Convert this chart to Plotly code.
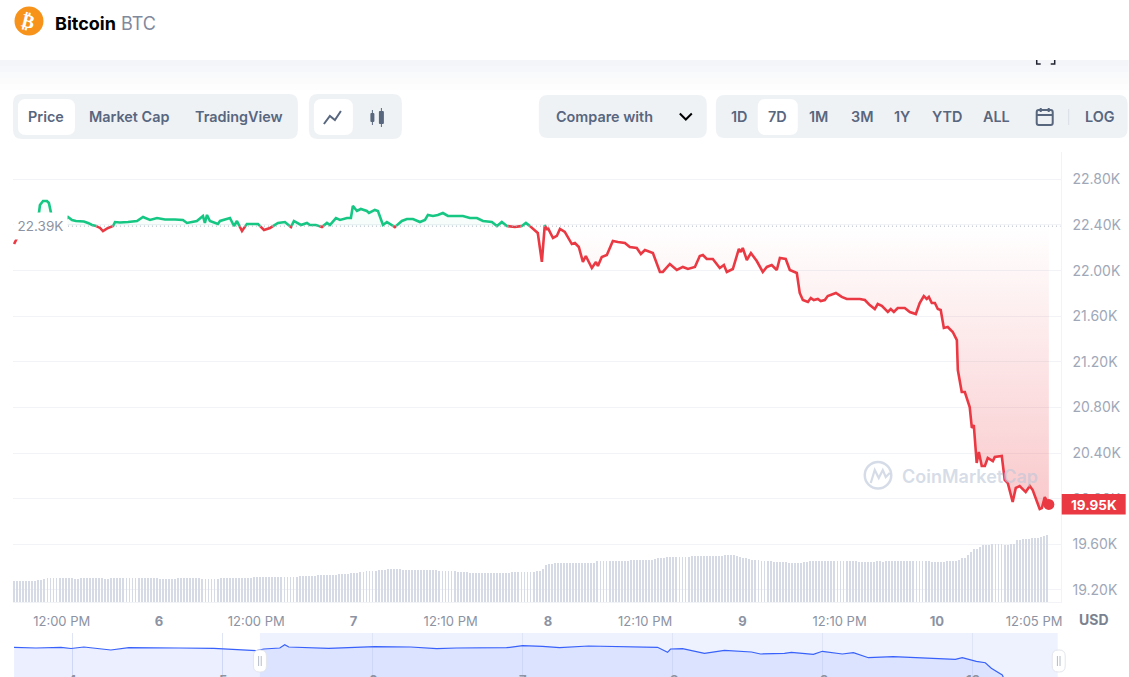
import plotly.graph_objects as go

W, H = 1129, 677

# ---------- data ----------
price_days = [5.255,5.275,5.296,5.316,5.337,5.357,5.383,5.388,5.404,5.424,5.434,5.445,5.465,5.486,5.506,5.532,5.553,5.573,5.594,5.614,5.635,5.656,5.676,5.697,5.712,5.738,5.764,5.774,5.799,5.841,5.887,5.918,5.954,5.990,6.031,6.082,6.123,6.144,6.195,6.226,6.236,6.247,6.262,6.303,6.314,6.365,6.386,6.401,6.427,6.452,6.509,6.540,6.571,6.596,6.612,6.648,6.679,6.694,6.730,6.761,6.776,6.807,6.838,6.864,6.879,6.910,6.931,6.967,6.987,6.997,7.018,7.038,7.069,7.080,7.110,7.126,7.152,7.172,7.213,7.249,7.275,7.306,7.342,7.368,7.383,7.409,7.434,7.460,7.486,7.563,7.599,7.635,7.666,7.712,7.738,7.763,7.789,7.830,7.866,7.887,7.907,7.948,7.969,7.984,7.995,8.000,8.026,8.046,8.062,8.087,8.123,8.139,8.159,8.180,8.195,8.226,8.247,8.257,8.277,8.303,8.334,8.360,8.396,8.421,8.457,8.478,8.499,8.540,8.576,8.591,8.612,8.627,8.663,8.694,8.720,8.756,8.781,8.797,8.817,8.848,8.884,8.905,8.920,8.951,8.982,8.992,9.002,9.023,9.044,9.074,9.105,9.126,9.151,9.177,9.193,9.223,9.244,9.280,9.295,9.311,9.337,9.352,9.367,9.388,9.403,9.424,9.439,9.465,9.481,9.511,9.537,9.604,9.630,9.655,9.681,9.696,9.717,9.748,9.763,9.779,9.799,9.835,9.861,9.892,9.912,9.933,9.948,9.959,9.974,9.990,10.005,10.020,10.036,10.056,10.082,10.103,10.108,10.128,10.144,10.169,10.180,10.190,10.205,10.216,10.231,10.247,10.262,10.288,10.298,10.334,10.349,10.365,10.390,10.406,10.426,10.457,10.478,10.493,10.529,10.540,10.555,10.576]
prices = [22233,22304,22374,22391,22426,22461,22505,22575,22610,22610,22593,22505,22426,22409,22426,22470,22444,22435,22435,22431,22418,22400,22391,22374,22347,22374,22391,22426,22422,22426,22435,22470,22444,22461,22448,22448,22444,22418,22435,22479,22418,22488,22435,22409,22435,22461,22391,22435,22347,22409,22409,22356,22374,22400,22418,22426,22382,22435,22400,22418,22400,22400,22382,22418,22400,22461,22444,22461,22461,22567,22523,22540,22523,22505,22532,22523,22400,22426,22382,22435,22453,22453,22426,22444,22488,22479,22488,22505,22479,22479,22461,22461,22435,22426,22391,22426,22391,22382,22391,22418,22391,22330,22076,22400,22356,22374,22286,22304,22365,22339,22233,22242,22207,22076,22128,22023,22076,22040,22119,22137,22260,22251,22242,22207,22198,22146,22181,22154,21988,21988,22032,22058,22005,22032,22014,22032,22128,22137,22102,22102,22023,22049,21988,22014,22190,22163,22198,22093,22154,22084,21988,22032,22049,22005,22111,22102,22005,21979,21804,21742,21725,21760,21742,21751,21733,21742,21777,21795,21804,21769,21751,21751,21742,21698,21663,21707,21690,21637,21663,21637,21672,21672,21637,21619,21716,21777,21751,21769,21716,21716,21663,21655,21497,21505,21462,21391,21128,20935,20935,20804,20620,20646,20313,20409,20286,20286,20357,20330,20365,20374,20164,20137,19971,20094,20111,20058,20111,20076,19909,19918,20014,19950]
base_price = 22390

volume = [21,21,21,21,21,21,22,
 23,24,24,24,24,24,24,24,23,24,24,24,24,24,24,23,23,24,24,24,24,24,24,24,24,24,24,24,24,23,23,23,23,24,24,24,24,24,24,23,23,23,23,23,24,24,24,24,24,24,24,24,
 25,25,25,25,25,25,25,25,25,25,25,26,26,26,26,26,27,27,
 27,27,27,28,28,28,29,29,30,30,
 31,31,31,32,32,33,33,33,33,
 32,32,32,32,32,32,32,32,32,
 31,31,31,31,30,30,30,29,29,29,29,29,29,29,29,29,29,
 29,30,30,30,30,30,30,31,33,
 37,38,39,39,39,39,39,39,39,39,39,39,39,
 41,41,41,41,41,41,41,41,42,42,42,42,42,
 42,43,44,44,45,45,
 45,45,45,45,46,46,46,46,46,
 46,46,46,47,47,47,
 46,45,44,43,
 42,42,41,41,41,40,40,40,40,
 39,39,39,39,40,41,
 41,41,41,41,41,41,41,41,41,41,
 41,40,40,40,
 40,40,41,40,41,41,41,41,41,41,41,41,41,41,
 41,40,40,40,
 40,41,41,41,42,
 44,47,50,53,55,57,57,
 58,58,58,57,57,58,62,
 62,63,63,64,64,65,66,67]
volume_start_day = 5.2546
volume_step_days = 0.5 / 24

nav_days = [3.607,3.753,3.920,3.987,4.073,4.253,4.373,4.587,4.707,4.940,5.227,5.273,5.380,5.413,5.440,5.707,6.013,6.253,6.427,6.560,6.893,7.000,7.133,7.247,7.440,7.900,7.967,7.987,8.067,8.213,8.347,8.527,8.587,8.747,8.793,8.940,9.000,9.133,9.207,9.307,9.473,9.887,9.933,10.027,10.087,10.127,10.200,10.247,10.570]
nav_prices = [22480,22433,22480,22400,22500,22300,22453,22413,22433,22413,22253,22367,22433,22653,22500,22413,22520,22500,22387,22433,22453,22587,22547,22453,22567,22480,22147,22367,22387,22080,22280,22167,22033,22080,22147,22013,22213,22033,22120,21786,21853,21680,21786,21546,21453,21080,20633,19632,19500]

y_ticks = [22800,22400,22000,21600,21200,20800,20400,20000,19600,19200]
y_labels = ["22.80K","22.40K","22.00K","21.60K","21.20K","20.80K","20.40K","20.00K","19.60K","19.20K"]
x_ticks = [5.5,6,6.5,7,7.5,8,8.5,9,9.5,10,10.5]
x_labels = ["12:00 PM","<b>6</b>","12:00 PM","<b>7</b>","12:10 PM","<b>8</b>","12:10 PM","<b>9</b>","12:10 PM","<b>10</b>","12:05 PM"]
nav_ticks = [4,5,6,7,8,9,10]

# ---------- helpers ----------
FONT = "Inter"
RED, GREEN = "#ea3943", "#16c784"
SLATE = "#58667e"
fx = lambda x: x / W * 1.0015
fy = lambda y: 1 - y / H
shapes, annos = [], []

def rect(x0, y0, x1, y1, color, layer="above"):
    shapes.append(dict(type="rect", xref="paper", yref="paper", x0=fx(x0), x1=fx(x1),
                       y0=fy(y1), y1=fy(y0), fillcolor=color, line_width=0, layer=layer))

def rrect(x0, y0, x1, y1, r, color, border=None):
    a, b, c, d = fx(x0), fx(x1), fy(y0), fy(y1)
    rx, ry = r / W, r / H
    p = (f"M{a+rx},{c} L{b-rx},{c} Q{b},{c} {b},{c-ry} L{b},{d+ry} Q{b},{d} {b-rx},{d} "
         f"L{a+rx},{d} Q{a},{d} {a},{d+ry} L{a},{c-ry} Q{a},{c} {a+rx},{c} Z")
    shapes.append(dict(type="path", xref="paper", yref="paper", path=p, fillcolor=color,
                       line=dict(color=border or color, width=1 if border else 0)))

def poly(points, color, width=2):
    p = "M" + " L".join(f"{fx(x)},{fy(y)}" for x, y in points)
    shapes.append(dict(type="path", xref="paper", yref="paper", path=p,
                       line=dict(color=color, width=width)))

def text(x, y, s, size=14, color=SLATE, weight=600, anchor="center", family=FONT, **kw):
    annos.append(dict(xref="paper", yref="paper", x=fx(x), y=fy(y), text=s, showarrow=False,
                      xanchor=anchor, yanchor="middle", borderpad=0,
                      font=dict(family=family, size=size, color=color, weight=weight), **kw))

# ---------- price series split at the open price ----------
xs, ys = [], []
for i, (d, v) in enumerate(zip(price_days, prices)):
    if i:
        d0, v0 = price_days[i - 1], prices[i - 1]
        if (v0 - base_price) * (v - base_price) < 0:
            xs.append(d0 + (d - d0) * (base_price - v0) / (v - v0))
            ys.append(base_price)
    xs.append(d)
    ys.append(v)
red_line = [v if v <= base_price else None for v in ys]
green_line = [v if v >= base_price else None for v in ys]
red_fill = [min(v, base_price) for v in ys]
green_fill = [max(v, base_price) for v in ys]
base_line = [base_price] * len(xs)

fig = go.Figure()
no_line = dict(width=0)
fig.add_trace(go.Scatter(x=xs, y=base_line, mode="lines", line=no_line, hoverinfo="skip"))
fig.add_trace(go.Scatter(x=xs, y=red_fill, mode="lines", line=no_line, fill="tonexty", hoverinfo="skip",
    fillgradient=dict(type="vertical", start=base_price, stop=19950,
                      colorscale=[[0, "rgba(234,57,67,0)"], [1, "rgba(234,57,67,0.27)"]])))
fig.add_trace(go.Scatter(x=xs, y=base_line, mode="lines", line=no_line, hoverinfo="skip"))
fig.add_trace(go.Scatter(x=xs, y=green_fill, mode="lines", line=no_line, fill="tonexty", hoverinfo="skip",
    fillcolor="rgba(22,199,132,0.04)"))
fig.add_trace(go.Scatter(x=xs, y=green_line, mode="lines", line=dict(color=GREEN, width=2.6), connectgaps=False))
fig.add_trace(go.Scatter(x=xs, y=red_line, mode="lines", line=dict(color=RED, width=2.6), connectgaps=False))
fig.add_trace(go.Scatter(x=[price_days[-1]], y=[prices[-1]], mode="markers",
                         marker=dict(color=RED, size=11)))
# one bar per volume sample, drawn thin so the column reads as a fine hatch
n_bars = int(len(volume) * 4 / 3)
vol_x = [volume_start_day + i * 0.75 * volume_step_days for i in range(n_bars)]
vol_y = [volume[int(i * 0.75)] for i in range(n_bars)]
fig.add_trace(go.Bar(x=vol_x, y=vol_y, width=0.0045, marker=dict(color="#d5dae5", line_width=0), yaxis="y2"))
fig.add_trace(go.Scatter(x=nav_days, y=nav_prices, mode="lines", xaxis="x3", yaxis="y3",
                         line=dict(color="#3861fb", width=1.2), fill="tozeroy",
                         fillcolor="rgba(56,97,251,0.10)"))

# ---------- page furniture ----------
for k, c in enumerate(["#f4f5f8", "#f6f7fa", "#f9fafb", "#fbfbfc", "#fdfdfe"]):
    rect(0, 60 + k * 6, W, 66 + k * 6, c, layer="below")

shapes.append(dict(type="circle", xref="paper", yref="paper", x0=fx(14.5), x1=fx(43.5),
                   y0=fy(35.5), y1=fy(6.5), fillcolor="#f7931a", line_width=0))
text(29, 21, "₿", size=19, color="#ffffff", weight=700, family="DejaVu Sans", textangle=14)
text(54, 23, "Bitcoin", size=18, color="#000000", weight=700, anchor="left")
text(120, 23, "BTC", size=18, color="#808a9d", weight=400, anchor="left")

poly([(1037, 60), (1037, 64), (1041, 64)], "#222531", 1.5)
poly([(1055, 60), (1055, 64), (1051, 64)], "#222531", 1.5)

GROUP = "#eff2f5"
BTN = 14.4
rrect(13, 94, 298, 139, 9, GROUP)
rrect(18, 99, 75, 135, 8, "#ffffff")
text(46, 116, "Price", size=BTN)
text(129, 116, "Market Cap", size=BTN)
text(239, 116, "TradingView", size=BTN)

rrect(309, 94, 402, 139, 9, GROUP)
rrect(314, 99, 353, 135, 8, "#ffffff")
poly([(324, 124), (330, 116), (335, 120), (341, 111)], SLATE, 2)
poly([(372.5, 110), (372.5, 125)], SLATE, 1)
poly([(381.5, 108), (381.5, 127)], SLATE, 1)
rrect(370.5, 113, 374.5, 122, 1, SLATE)
rrect(379, 111, 384, 124, 1, SLATE)

rrect(539, 95, 707, 138, 9, GROUP)
text(605, 117, "Compare with", size=BTN)
poly([(680, 113.5), (686, 119.5), (692, 113.5)], "#000000", 2)

rrect(716, 95, 1128, 138, 9, GROUP)
rrect(758, 99, 798, 135, 8, "#ffffff")
for x, s in [(739, "1D"), (778, "7D"), (819, "1M"), (862, "3M"), (902, "1Y"), (947, "YTD"), (997, "ALL"), (1100, "LOG")]:
    text(x, 117, s, size=BTN)
rrect(1037, 110, 1053, 125, 2, "rgba(0,0,0,0)", border=SLATE)
shapes[-1]["line"]["width"] = 2
poly([(1037, 115), (1053, 115)], SLATE, 2)
poly([(1041, 108), (1041, 112)], SLATE, 2)
poly([(1049, 108), (1049, 112)], SLATE, 2)
poly([(1069, 109), (1069, 125)], "#d8dde6", 1)

# ---------- chart overlays ----------
shapes.append(dict(type="line", xref="x", yref="y", x0=5.532, x1=10.637, y0=base_price, y1=base_price,
                   line=dict(color="#aab2c0", width=1, dash="1px,3px")))
annos.append(dict(xref="paper", yref="paper", x=fx(13), y=fy(226), text="22.39K", showarrow=False,
                  xanchor="left", yanchor="middle", width=51, height=24, align="center", bgcolor="#ffffff",
                  font=dict(family=FONT, size=13.5, color="#8c93a3")))

rect(1062, 494, 1126, 514.5, RED)
text(1094, 504.5, "19.95K", size=13.5, color="#ffffff", weight=700)
text(1094, 619, "USD", size=14, color="#7a8291", weight=700)

# watermark
WM = "rgba(188,198,216,0.62)"
shapes.append(dict(type="circle", xref="paper", yref="paper", x0=fx(865), x1=fx(891.5),
                   y0=fy(488.5), y1=fy(462), fillcolor="rgba(0,0,0,0)", line=dict(color=WM, width=2.5)))
poly([(871, 483), (875, 470), (879, 478), (883, 470), (886, 477), (890, 473)], WM, 2.2)
text(901, 476, "CoinMarketCap", size=18, color=WM, weight=600, anchor="left")

# navigator
rect(260, 633, 1058, 677, "#eef2fe", layer="below")
for x in (260, 1059):
    rrect(x - 6.5, 650, x + 6.5, 672, 6, "#ffffff", border="#e3e6ec")
    poly([(x - 1.3, 656), (x - 1.3, 666)], "#b4bcca", 1)
    poly([(x + 1.3, 656), (x + 1.3, 666)], "#b4bcca", 1)
for d in nav_ticks:
    text(73 + (d - 4) * 150.2, 680, str(d), size=13, color="#8c93a3", weight=700)

grid = "#f1f3f6"
tick_hide = "rgba(0,0,0,0)"
fig.update_layout(
    width=W, height=H, autosize=False, showlegend=False, margin=dict(l=0, r=0, t=0, b=0),
    paper_bgcolor="#ffffff", plot_bgcolor="rgba(0,0,0,0)", bargap=0, hovermode=False,
    font=dict(family=FONT), shapes=shapes, annotations=annos,
    xaxis=dict(domain=[fx(13), fx(1061)], range=[5.2494, 10.637], anchor="y", showgrid=False, zeroline=False,
               showline=True, linecolor=grid, linewidth=1, tickmode="array", tickvals=x_ticks, ticktext=x_labels,
               ticks="outside", ticklen=7, tickcolor=tick_hide, tickfont=dict(family=FONT, size=13, color="#8c93a3")),
    yaxis=dict(domain=[1 - 602 / H, 1 - 152 / H], range=[19094, 23040], side="right", anchor="x", showgrid=True,
               gridcolor=grid, gridwidth=1, zeroline=False, showline=True, linecolor=grid, linewidth=1,
               tickmode="array", tickvals=y_ticks, ticktext=y_labels, ticks="outside", ticklen=8, tickcolor=tick_hide,
               tickfont=dict(family=FONT, size=14, color="#a0a8b8")),
    yaxis2=dict(overlaying="y", range=[0, 450], visible=False, anchor="x"),
    xaxis3=dict(domain=[fx(13), fx(1058)], range=[3.6, 10.57], anchor="y3", showgrid=True, gridcolor="#dfe5f5",
                gridwidth=1, tickmode="array", tickvals=nav_ticks, showticklabels=False, zeroline=False, showline=False),
    yaxis3=dict(domain=[0, 44 / H], range=[20499, 23434], anchor="x3", visible=False),
)

fig.write_html("out.html", config=dict(displayModeBar=False),
               post_script="document.body.style.margin='0';document.body.style.overflow='hidden';")
